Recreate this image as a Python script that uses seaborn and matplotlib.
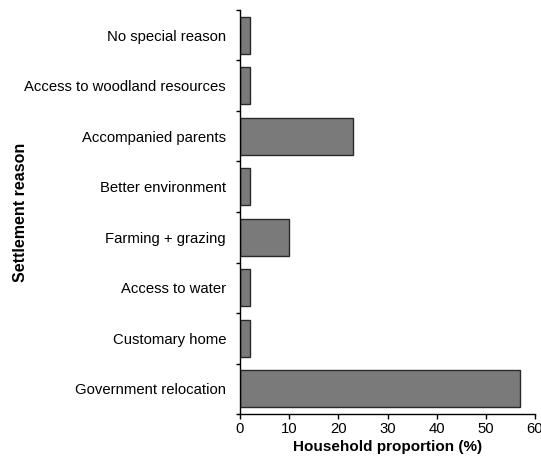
import matplotlib
matplotlib.use("Agg")
import matplotlib.pyplot as plt
import seaborn as sns
import pandas as pd
import numpy as np

reasons = ["No special reason", "Access to woodland resources", "Accompanied parents",
           "Better environment", "Farming + grazing", "Access to water",
           "Customary home", "Government relocation"]
proportions = [2, 2, 23, 2, 10, 2, 2, 57]
xticks = [0, 10, 20, 30, 40, 50, 60]

sns.set_style("ticks")
plt.rcParams['font.family'] = ['Liberation Sans', 'DejaVu Sans']
plt.rcParams['text.color'] = 'black'
plt.rcParams['axes.labelcolor'] = 'black'
plt.rcParams['xtick.color'] = 'black'
plt.rcParams['ytick.color'] = 'black'

df = pd.DataFrame({"reason": reasons, "prop": proportions})

fig = plt.figure(figsize=(5.41, 4.61), dpi=100)
ax = fig.add_axes([240/541, 1-414/461, (535-240)/541, (414-10)/461])
sns.barplot(data=df, x="prop", y="reason", order=reasons, color="#7a7a7a",
            saturation=1, edgecolor="#2a2a2a", linewidth=1.0, width=0.73, ax=ax)

ax.set_xlim(0, 60)
ax.set_ylim(len(reasons) - 0.5, -0.5)
ax.set_xticks(xticks)
ax.set_xticklabels([str(t) for t in xticks], fontsize=10.7)
ax.tick_params(axis='y', which='major', length=0, labelsize=10.7, pad=10, colors='black')
ax.set_yticks(np.arange(-0.5, len(reasons), 1), minor=True)
ax.tick_params(axis='y', which='minor', length=3, width=1, direction='out', colors='black')
ax.tick_params(axis='x', which='major', length=3.5, width=1, direction='out', pad=2, colors='black')
ax.set_xlabel("Household proportion (%)", fontsize=11, fontweight='bold', labelpad=3, color='black')
ax.set_ylabel("Settlement reason", fontsize=11.5, fontweight='bold', labelpad=0, color='black')
ax.yaxis.set_label_coords((28 - 240) / 295, 0.5)
for s in ['top', 'right']:
    ax.spines[s].set_visible(False)
for s in ['left', 'bottom']:
    ax.spines[s].set_linewidth(1.0)
    ax.spines[s].set_color('black')
fig.savefig("out.png", dpi=100)
